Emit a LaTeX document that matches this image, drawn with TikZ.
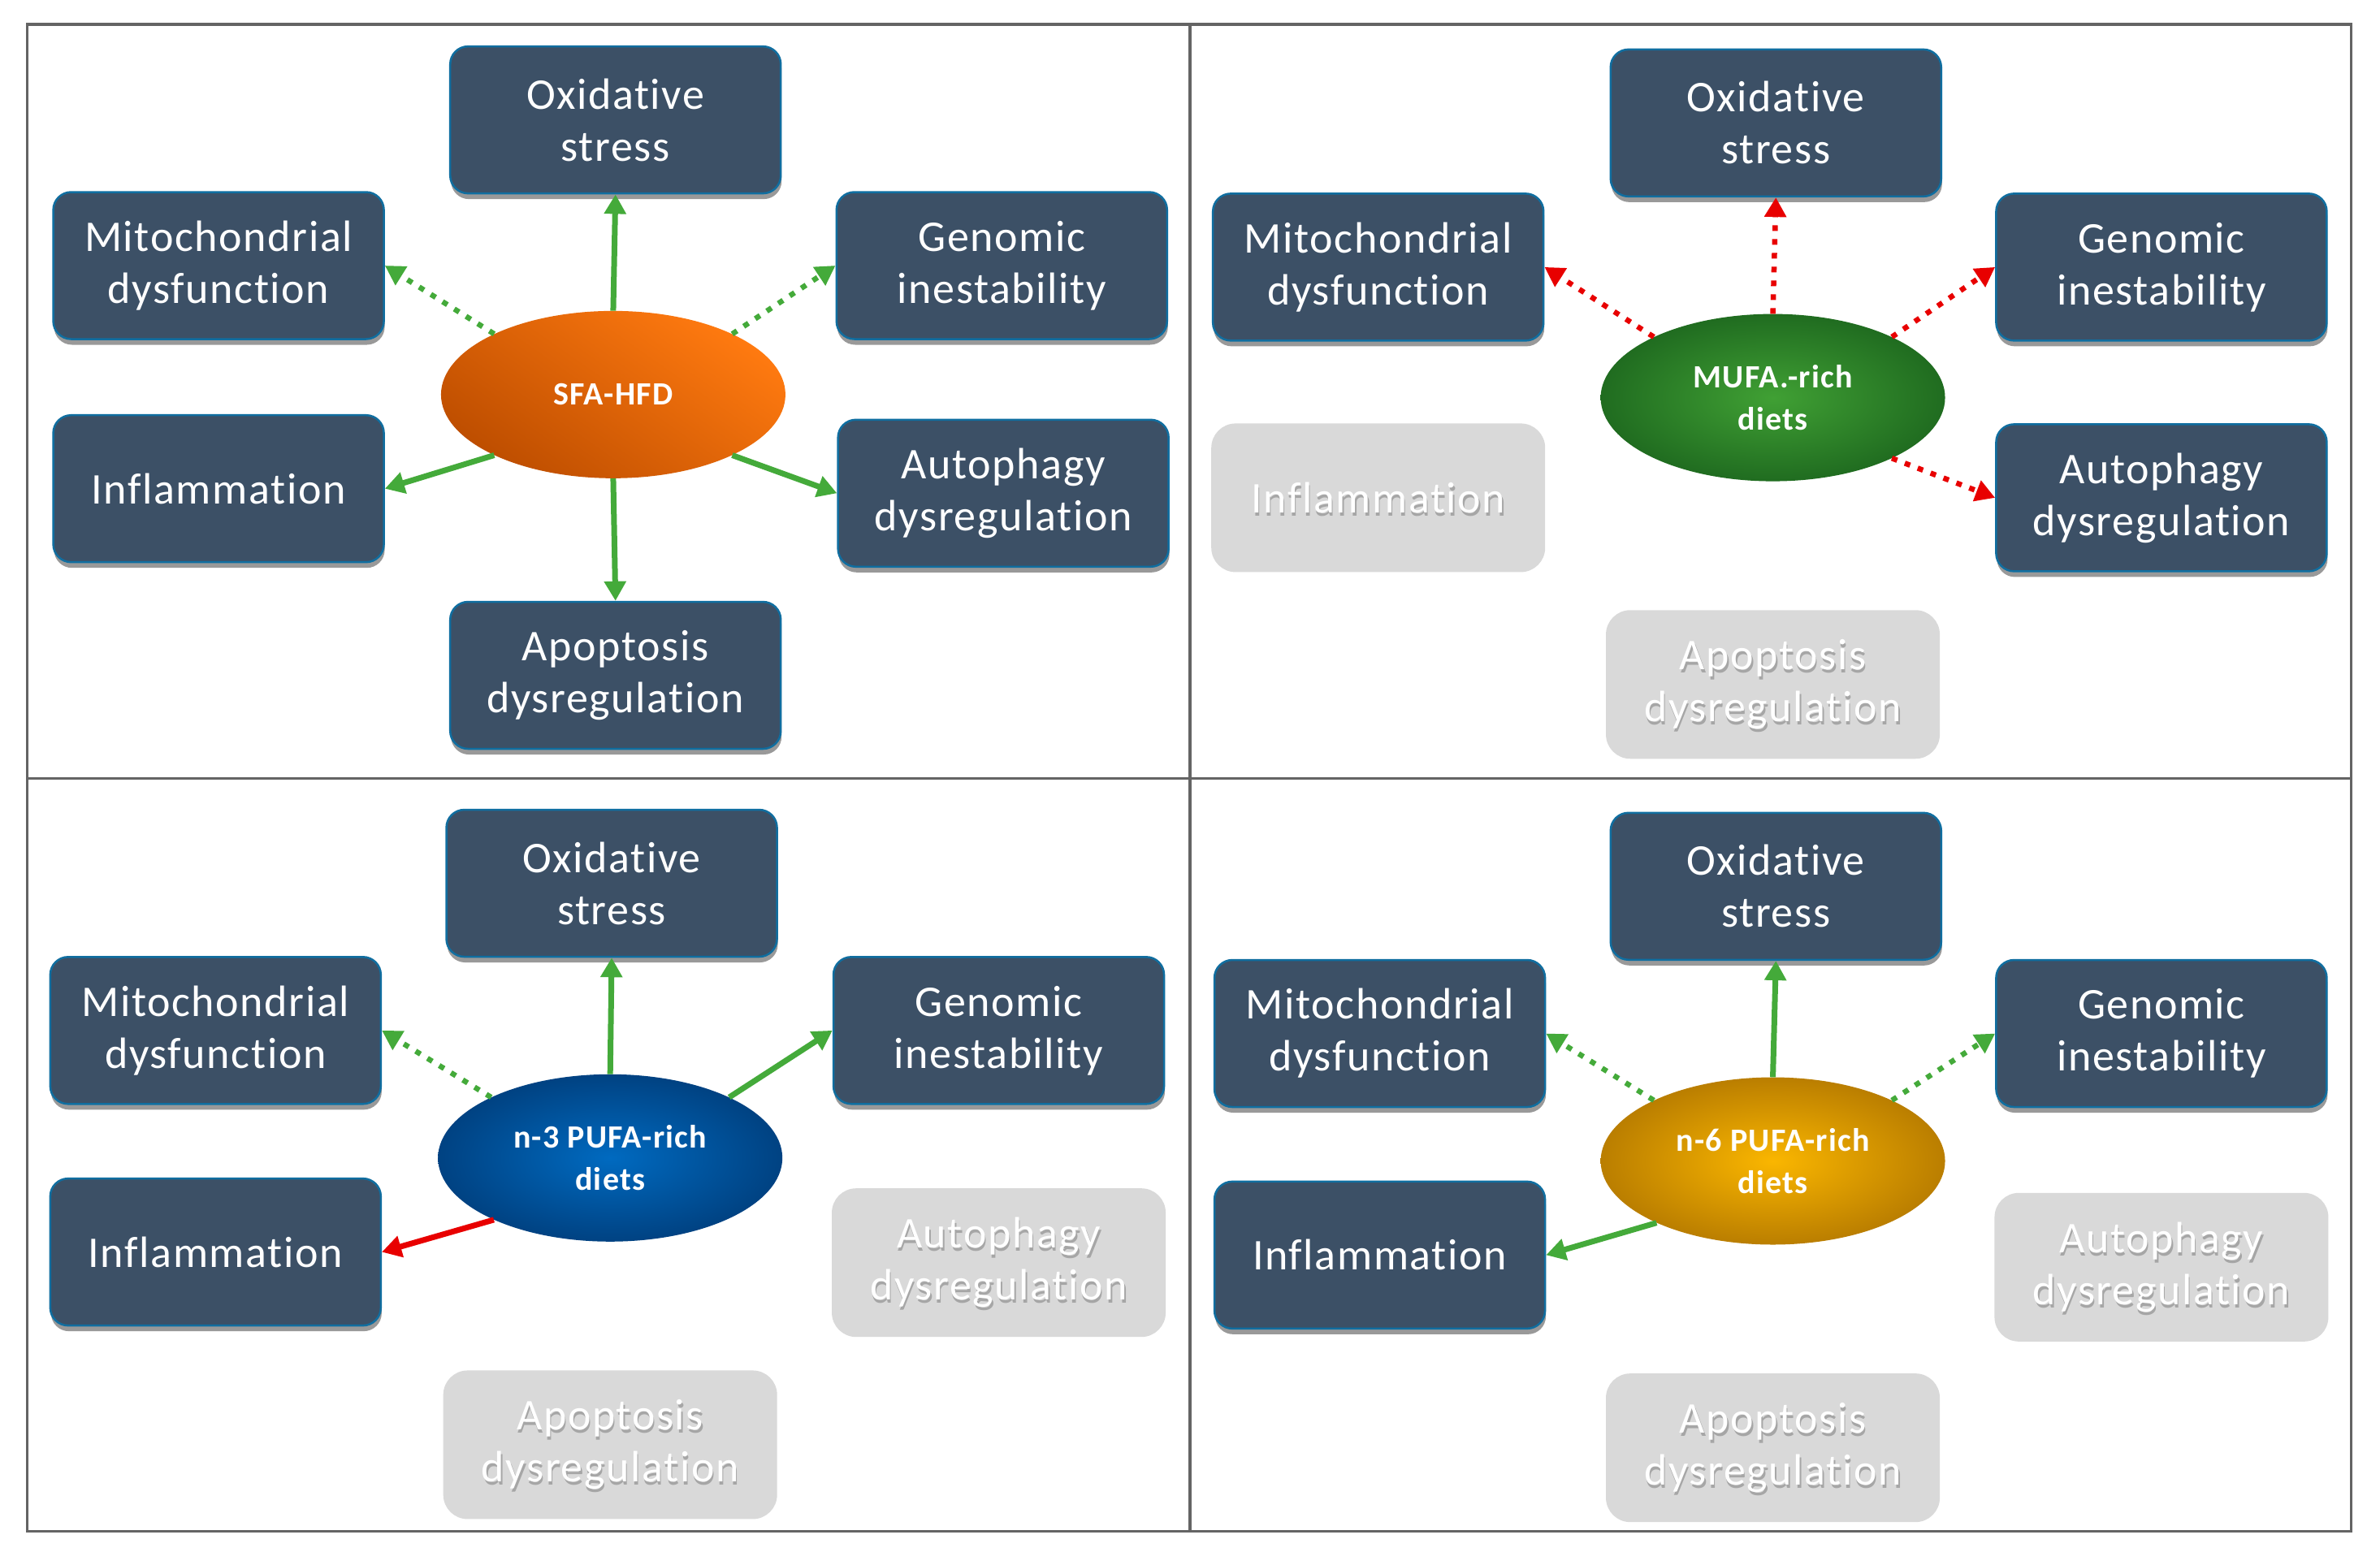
\documentclass[tikz,border=0pt]{standalone}
\usepackage{fontspec}
\setmainfont{Carlito}[Ligatures={NoCommon}, LetterSpace=3]
\usetikzlibrary{arrows.meta,shapes.geometric,shadows}
\definecolor{boxfill}{RGB}{60,80,102}
\definecolor{boxline}{RGB}{16,110,160}
\definecolor{greyfill}{RGB}{217,217,217}
\definecolor{arrgreen}{RGB}{68,170,58}
\definecolor{arrred}{RGB}{232,0,0}
\definecolor{framec}{RGB}{100,100,100}
\definecolor{orL}{RGB}{255,122,16}
\definecolor{orD}{RGB}{190,78,0}
\definecolor{grC}{RGB}{64,160,52}
\definecolor{grE}{RGB}{32,108,32}
\definecolor{blC}{RGB}{0,106,192}
\definecolor{blE}{RGB}{0,66,130}
\definecolor{goC}{RGB}{250,182,0}
\definecolor{goE}{RGB}{186,126,0}
\tikzset{
 dbox/.style={draw=boxline, line width=2.5pt, fill=boxfill, rounded corners=22pt,
   minimum width=407pt, minimum height=181pt, text=white, align=center,
   font=\fontsize{54}{64}\selectfont,
   drop shadow={shadow xshift=1pt, shadow yshift=-7pt, opacity=0.4, fill=black}},
 gbox/.style={fill=greyfill, rounded corners=30pt, minimum width=411pt, minimum height=183pt},
 gtxt/.style={text=white, align=center, font=\fontsize{54}{64}\selectfont},
 gshd/.style={text=black!35, align=center, font=\fontsize{54}{64}\selectfont},
 diet/.style={ellipse, minimum width=424pt, minimum height=206pt, text=white, align=center,
   font=\bfseries\fontsize{40}{52}\selectfont},
 tip/.style={-{Triangle[length=24pt,width=26pt]}},
 solidg/.style={draw=arrgreen, line width=7pt, tip},
 dotg/.style={draw=arrgreen, line width=6.5pt, dash pattern=on 7pt off 10pt, tip},
 solidr/.style={draw=arrred, line width=7pt, tip},
 dotr/.style={draw=arrred, line width=6.5pt, dash pattern=on 7pt off 10pt, tip},
 framel/.style={draw=framec, line width=3.5pt}
}
\begin{document}
\begin{tikzpicture}[x=1.8686pt, y=-1.8686pt]
\fill[white] (0,0) rectangle (1568,1031);
\useasboundingbox (0,0) rectangle (1568,1031);
\draw[framel] (18,16) rectangle (1549,1009);
\draw[framel] (784,16) -- (784,1009);
\draw[framel] (18,513) -- (1549,513);

% ---------- top left ----------
\node[dbox] (ox1) at (405.5,79) {Oxidative\\stress};
\node[dbox] (mi1) at (144,175) {Mitochondrial\\dysfunction};
\node[dbox] (ge1) at (660,175) {Genomic\\inestability};
\node[dbox] (in1) at (144,322) {Inflammation};
\node[dbox] (au1) at (661,325) {Autophagy\\dysregulation};
\node[dbox] (ap1) at (405.5,445) {Apoptosis\\dysregulation};
\node[diet, shading=axis, bottom color=orD, top color=orL, shading angle=-35] (d1) at (404,260) {SFA-HFD};
\draw[solidg] (d1.north) -- (ox1.south);
\draw[dotg] (d1.153) -- (mi1.east);
\draw[dotg] (d1.27) -- (ge1.west);
\draw[solidg] (d1.207) -- (in1.east);
\draw[solidg] (d1.333) -- (au1.west);
\draw[solidg] (d1.south) -- (ap1.north);

% ---------- top right ----------
\node[dbox] (ox2) at (1170,81) {Oxidative\\stress};
\node[dbox] (mi2) at (908,176) {Mitochondrial\\dysfunction};
\node[dbox] (ge2) at (1424,176) {Genomic\\inestability};
\node[gbox] (in2) at (908,328) {};
\node[gshd] (in2s) at ([shift={(1.5pt,-4pt)}]in2.center) {Inflammation};
\node[gtxt] (in2t) at (in2.center) {Inflammation};
\node[dbox] (au2) at (1424,328) {Autophagy\\dysregulation};
\node[gbox] (ap2) at (1168,451) {};
\node[gshd] (ap2s) at ([shift={(1.5pt,-4pt)}]ap2.center) {Apoptosis\\dysregulation};
\node[gtxt] (ap2t) at (ap2.center) {Apoptosis\\dysregulation};
\node[diet, inner color=grC, outer color=grE] (d2) at (1168,262) {MUFA.-rich\\diets};
\draw[dotr] (d2.north) -- (ox2.south);
\draw[dotr] (d2.153) -- (mi2.east);
\draw[dotr] (d2.27) -- (ge2.west);
\draw[dotr] (d2.333) -- (au2.west);

% ---------- bottom left ----------
\node[dbox] (ox3) at (403,582) {Oxidative\\stress};
\node[dbox] (mi3) at (142,679) {Mitochondrial\\dysfunction};
\node[dbox] (ge3) at (658,679) {Genomic\\inestability};
\node[dbox] (in3) at (142,825) {Inflammation};
\node[gbox] (au3) at (658,832) {};
\node[gshd] (au3s) at ([shift={(1.5pt,-4pt)}]au3.center) {Autophagy\\dysregulation};
\node[gtxt] (au3t) at (au3.center) {Autophagy\\dysregulation};
\node[gbox] (ap3) at (402,952) {};
\node[gshd] (ap3s) at ([shift={(1.5pt,-4pt)}]ap3.center) {Apoptosis\\dysregulation};
\node[gtxt] (ap3t) at (ap3.center) {Apoptosis\\dysregulation};
\node[diet, inner color=blC, outer color=blE] (d3) at (402,763) {n-3 PUFA-rich\\diets};
\draw[solidg] (d3.north) -- (ox3.south);
\draw[dotg] (d3.153) -- (mi3.east);
\draw[solidg] (d3.27) -- (ge3.west);
\draw[solidr] (d3.208) -- (in3.east);

% ---------- bottom right ----------
\node[dbox] (ox4) at (1170,584) {Oxidative\\stress};
\node[dbox] (mi4) at (909,681) {Mitochondrial\\dysfunction};
\node[dbox] (ge4) at (1424,681) {Genomic\\inestability};
\node[dbox] (in4) at (909,827) {Inflammation};
\node[gbox] (au4) at (1424,835) {};
\node[gshd] (au4s) at ([shift={(1.5pt,-4pt)}]au4.center) {Autophagy\\dysregulation};
\node[gtxt] (au4t) at (au4.center) {Autophagy\\dysregulation};
\node[gbox] (ap4) at (1168,954) {};
\node[gshd] (ap4s) at ([shift={(1.5pt,-4pt)}]ap4.center) {Apoptosis\\dysregulation};
\node[gtxt] (ap4t) at (ap4.center) {Apoptosis\\dysregulation};
\node[diet, inner color=goC, outer color=goE] (d4) at (1168,765) {n-6 PUFA-rich\\diets};
\draw[solidg] (d4.north) -- (ox4.south);
\draw[dotg] (d4.153) -- (mi4.east);
\draw[dotg] (d4.27) -- (ge4.west);
\draw[solidg] (d4.208) -- (in4.east);
\end{tikzpicture}
\end{document}
